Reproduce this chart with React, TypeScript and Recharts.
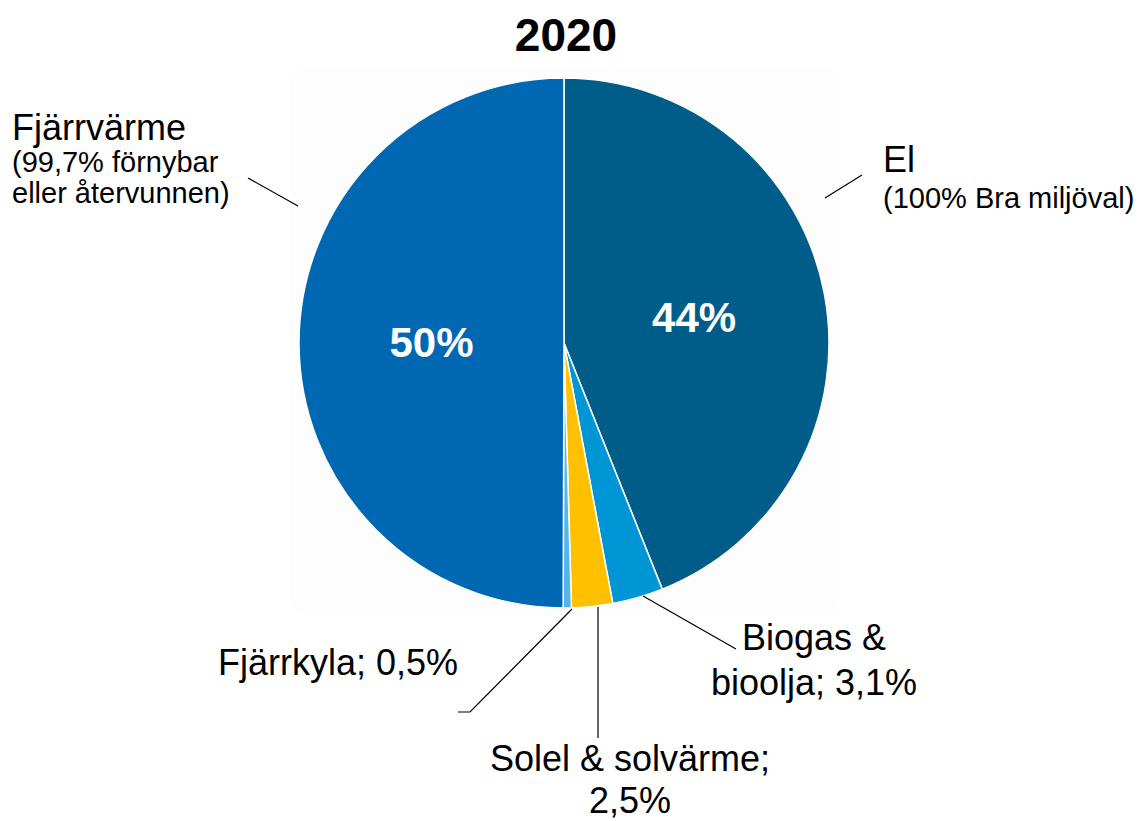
import React from "react";
import { PieChart, Pie, Cell } from "recharts";

const categories = ["El", "Biogas & bioolja", "Solel & solvärme", "Fjärrkyla", "Fjärrvärme"];
const shares = [44, 3.1, 2.5, 0.5, 50];
const colors = ["#005c89", "#0096d6", "#ffc000", "#55b5e9", "#0068b3"];
const insideLabels = ["44%", "", "", "", "50%"];

const data = categories.map((name, i) => ({ name, value: shares[i] }));

const FONT = "'Liberation Sans', Arial, sans-serif";

// outer label layout, offsets relative to pie centre
type Line = { text: string; dx: number; dy: number; size: number; anchor: "start" | "middle" | "end" };
const outerLabels: { lines: Line[]; leader: [number, number][] }[] = [
  {
    lines: [
      { text: "El", dx: 319, dy: -171, size: 36, anchor: "start" },
      { text: "(100% Bra miljöval)", dx: 319, dy: -135, size: 29, anchor: "start" },
    ],
    leader: [[261, -145], [298, -168]],
  },
  {
    lines: [
      { text: "Biogas &", dx: 250, dy: 307, size: 36, anchor: "middle" },
      { text: "bioolja; 3,1%", dx: 250, dy: 352, size: 36, anchor: "middle" },
    ],
    leader: [[79, 253], [172, 306]],
  },
  {
    lines: [
      { text: "Solel & solvärme;", dx: 66, dy: 428, size: 36, anchor: "middle" },
      { text: "2,5%", dx: 66, dy: 470, size: 36, anchor: "middle" },
    ],
    leader: [[34, 264], [34, 395]],
  },
  {
    lines: [{ text: "Fjärrkyla; 0,5%", dx: -106, dy: 332, size: 36, anchor: "end" }],
    leader: [[8, 266], [-94, 369], [-106, 369]],
  },
  {
    lines: [
      { text: "Fjärrvärme", dx: -552, dy: -203, size: 36, anchor: "start" },
      { text: "(99,7% förnybar", dx: -552, dy: -171, size: 29, anchor: "start" },
      { text: "eller återvunnen)", dx: -552, dy: -140, size: 29, anchor: "start" },
    ],
    leader: [[-266, -137], [-316, -165]],
  },
];

const RAD = Math.PI / 180;

const renderLabel = (props: any) => {
  const { cx, cy, midAngle, outerRadius, index } = props;
  const layout = outerLabels[index];
  const r = outerRadius * 0.5;
  const ix = cx + r * Math.cos(-midAngle * RAD);
  const iy = cy + r * Math.sin(-midAngle * RAD);
  const pts = layout.leader.map(([x, y]) => `${cx + x},${cy + y}`).join(" ");
  return (
    <g>
      <polyline points={pts} fill="none" stroke="#000" strokeWidth={1.2} />
      {layout.lines.map((l, k) => (
        <text
          key={k}
          x={cx + l.dx}
          y={cy + l.dy}
          textAnchor={l.anchor}
          fontSize={l.size}
          fontFamily={FONT}
          fill="#000"
        >
          {l.text}
        </text>
      ))}
      {insideLabels[index] && (
        <text
          x={ix}
          y={iy}
          textAnchor="middle"
          dominantBaseline="central"
          fontSize={42}
          fontWeight="bold"
          fontFamily={FONT}
          fill="#fff"
        >
          {insideLabels[index]}
        </text>
      )}
    </g>
  );
};

export default function App() {
  return (
    <div style={{ position: "absolute", left: 0, top: 0, width: 1139, height: 821, background: "#fff" }}>
      <div
        style={{
          position: "absolute",
          left: 290,
          top: 68,
          width: 550,
          height: 548,
          borderRadius: 18,
          background: "#fdfdfd",
        }}
      />
      <div
        style={{
          position: "absolute",
          left: 0,
          top: 8,
          width: 1132,
          textAlign: "center",
          fontFamily: FONT,
          fontWeight: "bold",
          fontSize: 46,
          lineHeight: "54px",
          color: "#000",
        }}
      >
        2020
      </div>
      <div style={{ position: "absolute", left: 0, top: 0 }}>
        <PieChart width={1139} height={821} margin={{ top: 0, right: 0, bottom: 0, left: 0 }}>
          <Pie
            data={data}
            dataKey="value"
            nameKey="name"
            cx={564}
            cy={343}
            outerRadius={265}
            startAngle={90}
            endAngle={-270}
            stroke="#fff"
            strokeWidth={1.5}
            label={renderLabel}
            labelLine={false}
            isAnimationActive={false}
          >
            {data.map((d, i) => (
              <Cell key={d.name} fill={colors[i]} />
            ))}
          </Pie>
        </PieChart>
      </div>
    </div>
  );
}
